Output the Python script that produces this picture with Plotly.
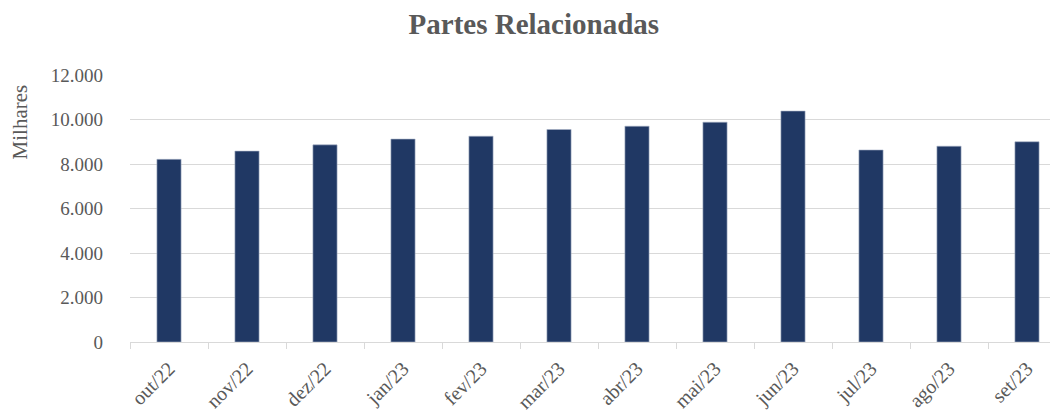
import plotly.graph_objects as go

categories = ["out/22", "nov/22", "dez/22", "jan/23", "fev/23", "mar/23",
              "abr/23", "mai/23", "jun/23", "jul/23", "ago/23", "set/23"]
values = [8210, 8580, 8860, 9120, 9250, 9550, 9700, 9880, 10380, 8630, 8800, 9000]
y_ticks = [0, 2000, 4000, 6000, 8000, 10000, 12000]
y_tick_labels = ["0", "2.000", "4.000", "6.000", "8.000", "10.000", "12.000"]

FONT = "Liberation Serif"
GRAY = "#595959"

fig = go.Figure()
fig.add_trace(go.Bar(
    x=categories, y=values, width=0.31,
    marker=dict(color="#203864", line=dict(color="#aab4c8", width=0.6)),
))

fig.update_layout(
    width=1058, height=418,
    margin=dict(l=122, r=0, t=67, b=84),
    paper_bgcolor="white", plot_bgcolor="white",
    showlegend=False,
    title=dict(text="<b>Partes Relacionadas</b>", x=0.497, xanchor="center",
               y=0.962, yanchor="middle",
               font=dict(family=FONT, size=29, color=GRAY)),
    font=dict(family=FONT, color=GRAY),
)
fig.update_xaxes(
    range=[-0.5, 11.5],
    tickangle=-45,
    tickfont=dict(family=FONT, size=20, color=GRAY),
    showline=True, linecolor="#d9d9d9", linewidth=1,
    ticks="outside", tickson="boundaries", ticklen=6, tickcolor="#d9d9d9",
    showgrid=False,
    ticklabelstandoff=6,
)
fig.update_yaxes(
    range=[0, 12000],
    tickvals=y_ticks, ticktext=y_tick_labels,
    tickfont=dict(family=FONT, size=19, color=GRAY),
    showgrid=True, gridcolor="#d9d9d9", gridwidth=1.3,
    zeroline=False, showline=False,
    ticklabelstandoff=26,
)
fig.add_annotation(
    text="Milhares", textangle=-90,
    xref="paper", yref="y", x=-0.1175, y=9870, xanchor="center", yanchor="middle",
    showarrow=False, font=dict(family=FONT, size=21, color=GRAY),
)

fig.write_html("out.html")
